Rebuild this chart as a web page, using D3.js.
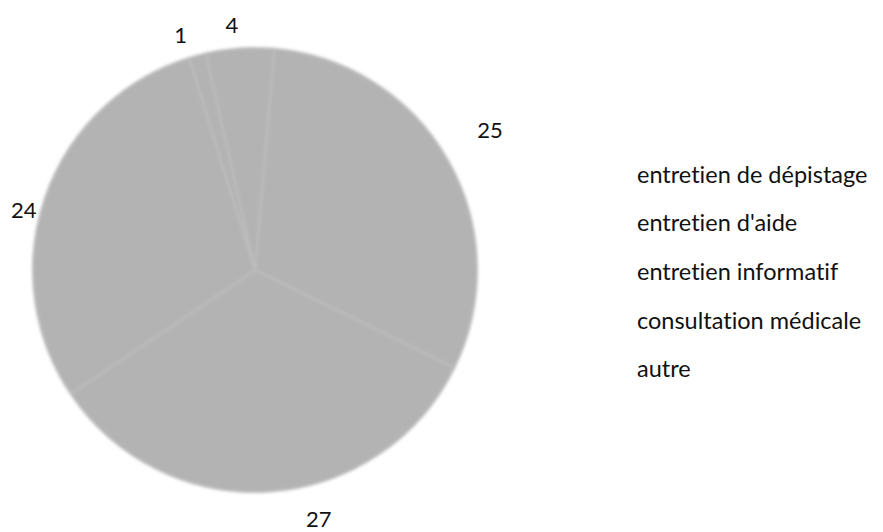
<!DOCTYPE html>
<html lang="fr">
  <head>
    <meta charset="utf-8">
    <title>Types d'entretien</title>
    <style>
      body { margin: 0; background: #fff; }
      text { font-family: Lato, "Open Sans", sans-serif; fill: #111; font-variant-ligatures: none; }
    </style>
  </head>
  <body>
  <script src="https://d3js.org/d3.v7.min.js"></script>

  <svg width="883" height="532" style="display: block"></svg>

  <script type="text/javascript">

    // data
    var categories = ["entretien de dépistage", "entretien d'aide", "entretien informatif", "consultation médicale", "autre"];
    var values = [25, 27, 24, 1, 4];

    // label nudges (degrees, px) to sit the numbers where the original puts them
    var labelAngleNudge = [-1.5, -10.5, -4.7, -2.5, -1.5];
    var labelRadiusNudge = [52, 35, 17, 25, 25];

    var svg = d3.select("svg"),
        cx = 255,
        cy = 270,
        radius = 222;

    var defs = svg.append("defs");
    defs.append("filter")
        .attr("id", "soft")
        .attr("x", "-10%").attr("y", "-10%")
        .attr("width", "120%").attr("height", "120%")
      .append("feGaussianBlur")
        .attr("stdDeviation", 1.6);

    var g = svg.append("g").attr("transform", "translate(" + cx + "," + cy + ")");

    var color = d3.scaleOrdinal()
        .domain(categories)
        .range(["#b3b3b3", "#b3b3b3", "#b3b3b3", "#b3b3b3", "#b3b3b3"]);

    // Generate the pie (starts a bit right of 12 o'clock, like the original)
    var pie = d3.pie()
        .sort(null)
        .startAngle(5 * Math.PI / 180)
        .endAngle(5 * Math.PI / 180 + 2 * Math.PI)
        .value(function(d) { return d; });

    var arc = d3.arc()
        .innerRadius(0)
        .outerRadius(radius);

    var arcs = pie(values);

    var slices = g.append("g").attr("filter", "url(#soft)");

    slices.selectAll("path")
        .data(arcs)
        .enter()
        .append("path")
        .attr("fill", function(d, i) { return color(categories[i]); })
        .attr("stroke", "#bdbdbd")
        .attr("stroke-width", 2)
        .attr("d", arc);

    // value labels
    g.selectAll("text.val")
        .data(arcs)
        .enter()
        .append("text")
        .attr("class", "val")
        .attr("text-anchor", "middle")
        .attr("dominant-baseline", "central")
        .style("font-size", "22px")
        .attr("x", function(d, i) {
            var a = (d.startAngle + d.endAngle) / 2 + labelAngleNudge[i] * Math.PI / 180;
            return Math.sin(a) * (radius + labelRadiusNudge[i]);
        })
        .attr("y", function(d, i) {
            var a = (d.startAngle + d.endAngle) / 2 + labelAngleNudge[i] * Math.PI / 180;
            return -Math.cos(a) * (radius + labelRadiusNudge[i]);
        })
        .text(function(d) { return d.data; });

    // legend (text only)
    var legendY = d3.scalePoint()
        .domain(categories)
        .range([182.5, 377.4]);

    svg.append("g")
        .selectAll("text")
        .data(categories)
        .enter()
        .append("text")
        .attr("x", 637)
        .attr("y", function(d) { return legendY(d); })
        .style("font-size", "23.5px")
        .text(function(d) { return d; });

  </script>
  </body>
</html>
